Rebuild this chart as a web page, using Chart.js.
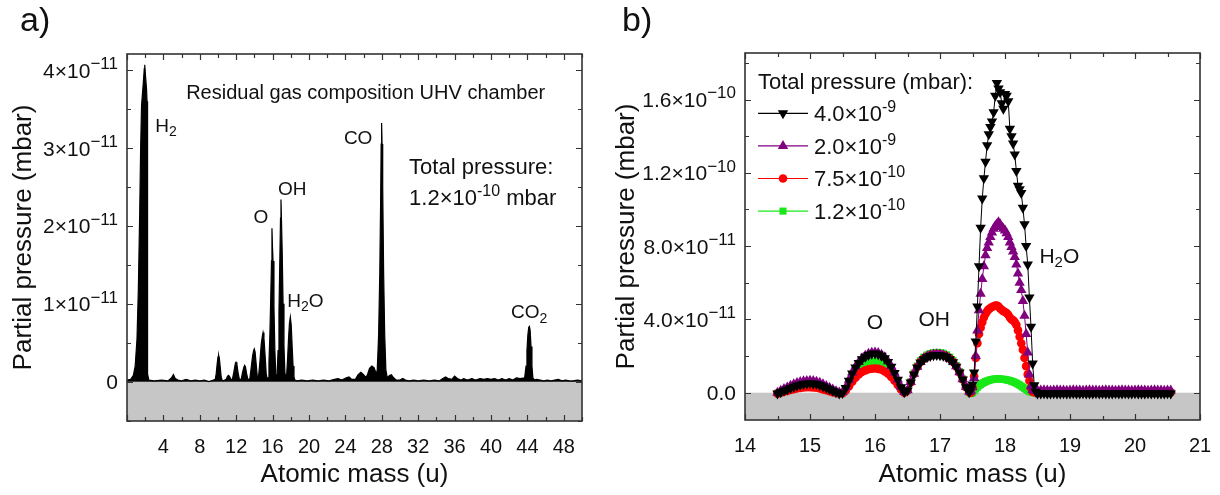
<!DOCTYPE html>
<html>
<head>
<meta charset="utf-8">
<script src="https://cdn.jsdelivr.net/npm/chart.js@4.4.0/dist/chart.umd.min.js"></script>
<style>
  body { margin: 0; background: #fff; width: 1220px; height: 495px; position: relative; overflow: hidden;
         font-family: "Liberation Sans", Arial, sans-serif; }
  .panel { position: absolute; top: 0; width: 610px; height: 495px; }
  .tag { position: absolute; top: 0px; font-size: 34px; color: #111; }
</style>
</head>
<body>
<div class="panel" style="left:0"><canvas id="chartA" width="610" height="495"></canvas></div>
<div class="panel" style="left:610px"><canvas id="chartB" width="610" height="495"></canvas></div>
<div class="tag" style="left:20px">a)</div>
<div class="tag" style="left:622px">b)</div>
<script>
// ---- panel a: residual gas spectrum, pressure in units of 1e-11 mbar ----
var massA = [
  0.0, 0.4, 0.7, 0.9, 1.1, 1.25, 1.4, 1.5, 1.6, 1.7, 1.8, 1.9, 1.95, 2.05, 2.15, 2.2, 2.24, 2.28, 2.4,
  3.0, 3.8, 4.5, 4.9, 5.1, 5.3, 5.6, 6.0, 6.5, 7.0, 7.5, 8.0, 8.5, 9.0, 9.5,
  9.7, 9.8, 9.9, 10.0, 10.07, 10.15, 10.25, 10.35, 10.45, 10.6,
  10.9, 11.05, 11.17, 11.3, 11.45,
  11.6, 11.75, 11.9, 11.98, 12.08, 12.2, 12.35,
  12.55, 12.7, 12.85, 12.93, 13.02, 13.15, 13.3,
  13.5, 13.65, 13.8, 13.92, 13.99, 14.08, 14.2, 14.33,
  14.45, 14.6, 14.75, 14.88, 14.95, 15.05, 15.18, 15.3, 15.4,
  15.5, 15.6, 15.7, 15.8, 15.88, 15.93, 15.98, 16.05, 16.15, 16.25, 16.35, 16.42,
  16.5, 16.6, 16.7, 16.8, 16.87, 16.92, 16.98, 17.05, 17.15, 17.25, 17.35, 17.45,
  17.55, 17.65, 17.75, 17.85, 17.95, 18.05, 18.15, 18.25, 18.35, 18.45,
  18.7, 19.2, 19.8, 20.4, 21.0, 21.6, 22.2, 22.8, 23.2, 23.6, 24.1, 24.4, 24.7,
  25.1, 25.4, 25.7, 26.0, 26.2,
  26.4, 26.65, 26.9, 27.15, 27.4,
  27.5, 27.65, 27.78, 27.87, 27.93, 27.98, 28.03, 28.1, 28.2, 28.32, 28.45,
  28.6, 28.85, 29.05, 29.3, 29.6, 30.0, 30.3, 30.6, 31.0, 31.5, 32.0, 32.6, 33.2, 33.8,
  34.3, 34.7, 35.0, 35.3, 35.7, 36.0, 36.3, 36.7, 37.0, 37.4, 37.9, 38.3, 38.8, 39.2,
  39.6, 40.0, 40.4, 40.8, 41.2, 41.6, 42.0, 42.4, 42.8, 43.2,
  43.7, 43.85, 43.95, 44.05, 44.15, 44.22, 44.3, 44.4, 44.5, 44.6, 44.8,
  45.0, 45.4, 45.8, 46.2, 46.6, 47.0, 47.4, 47.8, 48.2, 48.6, 49.0, 49.5, 50.0
];
var pressureA = [
  0.02, 0.03, 0.08, 0.20, 0.55, 1.20, 2.20, 3.00, 3.55, 3.70, 3.85, 4.02, 4.07, 3.90, 3.75, 3.60, 1.50, 0.10, 0.02,
  0.01, 0.02, 0.01, 0.05, 0.09, 0.04, 0.02, 0.01, 0.03, 0.01, 0.02, 0.01, 0.02, 0.00, 0.02,
  0.03, 0.10, 0.22, 0.32, 0.34, 0.30, 0.18, 0.06, 0.02, 0.01,
  0.03, 0.07, 0.08, 0.06, 0.02,
  0.04, 0.13, 0.23, 0.25, 0.22, 0.12, 0.03,
  0.03, 0.12, 0.19, 0.21, 0.19, 0.10, 0.02,
  0.04, 0.18, 0.33, 0.40, 0.42, 0.38, 0.22, 0.05,
  0.06, 0.25, 0.48, 0.59, 0.63, 0.56, 0.33, 0.10, 0.04,
  0.05, 0.25, 0.60, 1.10, 1.55, 1.97, 1.75, 1.55, 0.95, 0.40, 0.10, 0.06,
  0.10, 0.40, 0.90, 1.60, 2.10, 2.34, 2.05, 1.70, 1.00, 0.45, 0.12, 0.05,
  0.10, 0.30, 0.55, 0.75, 0.83, 0.72, 0.45, 0.20, 0.06, 0.02,
  0.01, 0.02, 0.01, 0.02, 0.01, 0.02, 0.01, 0.03, 0.04, 0.02, 0.05, 0.06, 0.03,
  0.03, 0.09, 0.12, 0.09, 0.06,
  0.08, 0.17, 0.20, 0.18, 0.10,
  0.15, 0.60, 1.40, 2.30, 3.05, 3.32, 3.05, 2.50, 1.40, 0.60, 0.15,
  0.05, 0.08, 0.09, 0.05, 0.02, 0.02, 0.04, 0.02, 0.01, 0.02, 0.01, 0.02, 0.01, 0.02,
  0.01, 0.04, 0.06, 0.04, 0.03, 0.07, 0.04, 0.02, 0.04, 0.02, 0.04, 0.02, 0.04, 0.03,
  0.04, 0.03, 0.04, 0.02, 0.04, 0.02, 0.04, 0.02, 0.05, 0.04,
  0.05, 0.20, 0.40, 0.60, 0.70, 0.71, 0.66, 0.45, 0.20, 0.05, 0.02,
  0.03, 0.02, 0.01, 0.02, 0.01, 0.02, 0.03, 0.01, 0.02, 0.01, 0.01, 0.02, 0.01
];

// ---- panel b: water region at four total pressures, units of 1e-11 mbar ----
var massB = [
  14.50, 14.55, 14.60, 14.65, 14.70, 14.75, 14.80, 14.85, 14.90, 14.95,
  15.00, 15.05, 15.10, 15.15, 15.20, 15.25, 15.30, 15.35, 15.40, 15.45,
  15.50, 15.55, 15.60, 15.65, 15.70, 15.75, 15.80, 15.85, 15.90, 15.95,
  16.00, 16.05, 16.10, 16.15, 16.20, 16.25, 16.30, 16.35, 16.40, 16.45,
  16.50, 16.55, 16.60, 16.65, 16.70, 16.75, 16.80, 16.85, 16.90, 16.95,
  17.00, 17.05, 17.10, 17.15, 17.20, 17.25, 17.30, 17.35, 17.40, 17.45,
  17.475, 17.500, 17.525, 17.550, 17.575, 17.600, 17.625, 17.650, 17.675, 17.700,
  17.725, 17.750, 17.775, 17.800, 17.825, 17.850, 17.875, 17.900, 17.925, 17.950,
  17.975, 18.000, 18.025, 18.050, 18.075, 18.100, 18.125, 18.150, 18.175, 18.200,
  18.225, 18.250, 18.275, 18.300, 18.325, 18.350, 18.375, 18.400, 18.425, 18.450,
  18.475, 18.500,
  18.55, 18.60, 18.65, 18.70, 18.75, 18.80, 18.85, 18.90, 18.95, 19.00,
  19.05, 19.10, 19.15, 19.20, 19.25, 19.30, 19.35, 19.40, 19.45, 19.50,
  19.55, 19.60, 19.65, 19.70, 19.75, 19.80, 19.85, 19.90, 19.95, 20.00,
  20.05, 20.10, 20.15, 20.20, 20.25, 20.30, 20.35, 20.40, 20.45, 20.50,
  20.55
];
var p4e9 = [
  -0.05, 0.02, 0.10, 0.18, 0.26, 0.33, 0.39, 0.44, 0.48, 0.50,
  0.51, 0.50, 0.47, 0.42, 0.35, 0.27, 0.19, 0.10, 0.03, -0.04,
  -0.02, 0.25, 0.65, 1.05, 1.38, 1.62, 1.82, 1.96, 2.06, 2.12,
  2.14, 2.10, 2.02, 1.88, 1.68, 1.42, 1.08, 0.70, 0.30, 0.02,
  0.12, 0.55, 1.00, 1.38, 1.65, 1.82, 1.93, 2.00, 2.04, 2.06,
  2.05, 2.02, 1.95, 1.83, 1.66, 1.42, 1.10, 0.72, 0.30, 0.02,
  0.20, 0.45, 1.10, 2.80, 4.70, 6.90, 9.00, 10.60, 11.70, 12.60,
  13.50, 14.10, 14.50, 14.80, 15.30, 16.20, 16.90, 16.60, 16.40, 15.80,
  15.50, 16.30, 16.20, 15.90, 14.40, 14.00, 13.60, 13.00, 12.10, 11.30,
  11.10, 10.90, 10.10, 9.20, 8.00, 7.00, 5.20, 3.60, 1.60, 0.40,
  0.05, -0.05,
  -0.04, -0.03, -0.05, -0.04, -0.03, -0.04, -0.05, -0.03, -0.04, -0.04,
  -0.03, -0.05, -0.04, -0.03, -0.04, -0.04, -0.05, -0.03, -0.04, -0.03,
  -0.04, -0.05, -0.04, -0.03, -0.04, -0.04, -0.03, -0.05, -0.04, -0.03,
  -0.04, -0.04, -0.05, -0.03, -0.04, -0.03, -0.04, -0.05, -0.04, -0.03,
  -0.04
];
var p2e9 = [
  0.00, 0.10, 0.20, 0.29, 0.38, 0.46, 0.53, 0.58, 0.62, 0.64,
  0.65, 0.64, 0.60, 0.54, 0.46, 0.37, 0.27, 0.17, 0.08, 0.01,
  0.02, 0.30, 0.70, 1.10, 1.43, 1.68, 1.88, 2.02, 2.12, 2.18,
  2.20, 2.16, 2.07, 1.93, 1.72, 1.45, 1.10, 0.72, 0.32, 0.04,
  0.14, 0.58, 1.03, 1.41, 1.68, 1.86, 1.97, 2.04, 2.08, 2.10,
  2.09, 2.05, 1.98, 1.86, 1.68, 1.44, 1.12, 0.74, 0.32, 0.05,
  0.10, 0.30, 0.80, 2.00, 3.40, 4.50, 5.40, 6.20, 6.90, 7.50,
  7.90, 8.20, 8.50, 8.75, 8.95, 9.10, 9.20, 9.30, 9.20, 9.05,
  8.95, 8.85, 8.70, 8.50, 8.20, 7.95, 7.70, 7.40, 7.00, 6.50,
  6.00, 5.60, 5.00, 4.20, 3.20, 2.20, 1.00, 0.35, 0.15, 0.12,
  0.12, 0.12,
  0.12, 0.13, 0.12, 0.11, 0.12, 0.13, 0.12, 0.12, 0.11, 0.12,
  0.13, 0.12, 0.12, 0.11, 0.12, 0.13, 0.12, 0.12, 0.11, 0.12,
  0.13, 0.12, 0.12, 0.11, 0.12, 0.13, 0.12, 0.12, 0.11, 0.12,
  0.13, 0.12, 0.12, 0.11, 0.12, 0.13, 0.12, 0.12, 0.11, 0.12,
  0.12
];
var p75e10 = [
  -0.05, 0.00, 0.05, 0.10, 0.15, 0.19, 0.23, 0.26, 0.28, 0.30,
  0.30, 0.29, 0.27, 0.23, 0.18, 0.13, 0.08, 0.03, -0.01, -0.04,
  -0.03, 0.12, 0.35, 0.60, 0.82, 1.00, 1.13, 1.22, 1.28, 1.31,
  1.32, 1.30, 1.25, 1.16, 1.03, 0.86, 0.65, 0.42, 0.18, 0.00,
  0.12, 0.56, 1.02, 1.40, 1.68, 1.86, 1.97, 2.05, 2.09, 2.11,
  2.10, 2.06, 1.98, 1.86, 1.68, 1.43, 1.10, 0.72, 0.30, 0.02,
  0.00, 0.30, 0.90, 1.90, 2.70, 3.20, 3.55, 3.85, 4.10, 4.30,
  4.45, 4.55, 4.62, 4.68, 4.72, 4.75, 4.76, 4.70, 4.60, 4.52,
  4.45, 4.40, 4.35, 4.25, 4.10, 4.00, 3.95, 3.85, 3.70, 3.40,
  3.05, 2.70, 2.35, 1.90, 1.45, 1.00, 0.65, 0.25, 0.05, 0.02,
  0.02, 0.02,
  0.02, 0.03, 0.02, 0.01, 0.02, 0.03, 0.02, 0.02, 0.01, 0.02,
  0.03, 0.02, 0.02, 0.01, 0.02, 0.03, 0.02, 0.02, 0.01, 0.02,
  0.03, 0.02, 0.02, 0.01, 0.02, 0.03, 0.02, 0.02, 0.01, 0.02,
  0.03, 0.02, 0.02, 0.01, 0.02, 0.03, 0.02, 0.02, 0.01, 0.02,
  0.02
];
var p12e10 = [
  -0.03, 0.05, 0.12, 0.19, 0.26, 0.32, 0.37, 0.41, 0.44, 0.45,
  0.46, 0.45, 0.42, 0.37, 0.31, 0.24, 0.16, 0.08, 0.02, -0.03,
  -0.01, 0.20, 0.52, 0.85, 1.12, 1.33, 1.48, 1.59, 1.66, 1.70,
  1.71, 1.68, 1.62, 1.50, 1.34, 1.12, 0.86, 0.56, 0.24, 0.02,
  0.15, 0.60, 1.07, 1.46, 1.75, 1.94, 2.06, 2.14, 2.18, 2.20,
  2.19, 2.15, 2.07, 1.94, 1.75, 1.49, 1.15, 0.75, 0.32, 0.03,
  -0.05, 0.00, 0.10, 0.20, 0.30, 0.38, 0.45, 0.51, 0.56, 0.60,
  0.64, 0.67, 0.70, 0.72, 0.74, 0.75, 0.76, 0.76, 0.75, 0.74,
  0.73, 0.72, 0.70, 0.68, 0.66, 0.63, 0.60, 0.56, 0.52, 0.47,
  0.42, 0.36, 0.30, 0.24, 0.18, 0.12, 0.07, 0.03, 0.01, 0.00,
  0.00, 0.00,
  0.00, 0.01, 0.00, 0.00, 0.01, 0.00, 0.00, 0.01, 0.00, 0.00,
  0.01, 0.00, 0.00, 0.01, 0.00, 0.00, 0.01, 0.00, 0.00, 0.01,
  0.00, 0.00, 0.01, 0.00, 0.00, 0.01, 0.00, 0.00, 0.01, 0.00,
  0.00, 0.01, 0.00, 0.00, 0.01, 0.00, 0.00, 0.01, 0.00, 0.00,
  0.00
];
var seriesLabelsB = ['4.0×10^{-9}', '2.0×10^{-9}', '7.5×10^{-10}', '1.2×10^{-10}'];

// tick labels ("^{...}" marks a superscript)
var yTickValuesA = [0, 1, 2, 3, 4];
var yTickLabelsA = ['0', '1×10^{−11}', '2×10^{−11}', '3×10^{−11}', '4×10^{−11}'];
var yTickValuesB = [0, 4, 8, 12, 16];
var yTickLabelsB = ['0.0', '4.0×10^{−11}', '8.0×10^{−11}', '1.2×10^{−10}', '1.6×10^{−10}'];

var FONT = '"Liberation Sans", Arial, sans-serif';
Chart.defaults.font.family = FONT;
Chart.defaults.color = '#111';

function parseRich(text) {
  var parts = [], re = /([_^])\{([^}]*)\}/g, last = 0, m;
  while ((m = re.exec(text))) {
    if (m.index > last) parts.push({ t: text.slice(last, m.index), k: '' });
    parts.push({ t: m[2], k: m[1] });
    last = re.lastIndex;
  }
  if (last < text.length) parts.push({ t: text.slice(last), k: '' });
  return parts;
}

function drawRich(ctx, text, x, yMid, size, align, ratio) {
  var parts = parseRich(text);
  var small = Math.round(size * (ratio || 0.72));
  var w = 0;
  parts.forEach(function (p) {
    ctx.font = (p.k ? small : size) + 'px ' + FONT;
    p.w = ctx.measureText(p.t).width;
    w += p.w;
  });
  var cx = align === 'right' ? x - w : align === 'center' ? x - w / 2 : x;
  var base = yMid + size * 0.36;
  ctx.textAlign = 'left';
  ctx.textBaseline = 'alphabetic';
  ctx.fillStyle = '#111';
  parts.forEach(function (p) {
    ctx.font = (p.k ? small : size) + 'px ' + FONT;
    var dy = p.k === '^' ? -size * 0.42 : p.k === '_' ? size * 0.22 : 0;
    ctx.fillText(p.t, cx, base + dy);
    cx += p.w;
  });
}

function drawMarker(ctx, style, x, y, r, color) {
  ctx.fillStyle = color;
  ctx.beginPath();
  if (style === 'circle') {
    ctx.arc(x, y, r, 0, Math.PI * 2);
  } else if (style === 'rect') {
    var s = r * Math.SQRT2 / 2;
    ctx.rect(x - s, y - s, 2 * s, 2 * s);
  } else {
    var d = style === 'down' ? -1 : 1;
    ctx.moveTo(x, y - d * r);
    ctx.lineTo(x + r * 0.866, y + d * r * 0.5);
    ctx.lineTo(x - r * 0.866, y + d * r * 0.5);
    ctx.closePath();
  }
  ctx.fill();
}

// frame, inward ticks, y labels, gray band below zero, text notes
function makeDecor(cfg) {
  return {
    id: 'decor',
    beforeDatasetsDraw: function (chart) {
      var ctx = chart.ctx, a = chart.chartArea, y = chart.scales.y;
      var y0 = y.getPixelForValue(0);
      ctx.save();
      ctx.fillStyle = '#c6c6c6';
      ctx.fillRect(a.left, y0, a.right - a.left, a.bottom - y0);
      ctx.restore();
    },
    afterDraw: function (chart) {
      var ctx = chart.ctx, a = chart.chartArea, x = chart.scales.x, y = chart.scales.y;
      ctx.save();
      ctx.strokeStyle = '#333';
      ctx.lineWidth = 1.2;
      ctx.beginPath();
      x.ticks.forEach(function (t) {
        var px = Math.round(x.getPixelForValue(t.value)) + 0.5;
        var len = cfg.xMajor(t.value) ? 6 : 4;
        ctx.moveTo(px, a.bottom); ctx.lineTo(px, a.bottom - len);
        ctx.moveTo(px, a.top); ctx.lineTo(px, a.top + len);
      });
      y.ticks.forEach(function (t) {
        var py = Math.round(y.getPixelForValue(t.value)) + 0.5;
        var len = cfg.yMajor(t.value) ? 6 : 4;
        ctx.moveTo(a.left, py); ctx.lineTo(a.left + len, py);
        ctx.moveTo(a.right, py); ctx.lineTo(a.right - len, py);
      });
      ctx.stroke();
      ctx.lineWidth = 1.6;
      ctx.strokeRect(a.left, a.top, a.right - a.left, a.bottom - a.top);

      cfg.yValues.forEach(function (v, i) {
        drawRich(ctx, cfg.yLabels[i], a.left - 9, y.getPixelForValue(v), 21, 'right', 0.8);
      });
      cfg.notes.forEach(function (n) {
        drawRich(ctx, n.text, x.getPixelForValue(n.x), y.getPixelForValue(n.y), n.size, n.align);
      });
      if (cfg.legend) cfg.legend(chart);
      ctx.restore();
    }
  };
}

function scaleOptions(o) {
  return {
    x: {
      type: 'linear', min: o.xmin, max: o.xmax,
      grid: { display: false }, border: { display: false },
      ticks: { stepSize: o.xstep, autoSkip: false, maxRotation: 0, padding: 6, color: '#111',
               font: { size: 20 }, callback: o.xLabel },
      title: { display: true, text: 'Atomic mass (u)', color: '#111', font: { size: 26 },
               padding: { top: 0, bottom: 5 } },
      afterFit: function (s) { s.height = o.xHeight; }
    },
    y: {
      type: 'linear', min: o.ymin, max: o.ymax,
      grid: { display: false }, border: { display: false },
      ticks: { stepSize: o.ystep, includeBounds: false, display: false },
      title: { display: true, text: 'Partial pressure (mbar)', color: '#111', font: { size: 26 },
               padding: { top: o.titlePad, bottom: 0 } },
      afterFit: function (s) { s.width = o.yWidth; }
    }
  };
}

// ---- chart a ----
var notesA = [
  { text: 'Residual gas composition UHV chamber', x: 6.5, y: 3.72, size: 20, align: 'left' },
  { text: 'H_{2}', x: 3.1, y: 3.29, size: 19, align: 'left' },
  { text: 'CO', x: 25.4, y: 3.14, size: 19, align: 'center' },
  { text: 'Total pressure:', x: 31.0, y: 2.77, size: 22, align: 'left' },
  { text: '1.2×10^{-10} mbar', x: 31.0, y: 2.37, size: 22, align: 'left' },
  { text: 'OH', x: 18.15, y: 2.49, size: 19, align: 'center' },
  { text: 'O', x: 14.7, y: 2.13, size: 19, align: 'center' },
  { text: 'H_{2}O', x: 17.6, y: 1.05, size: 19, align: 'left' },
  { text: 'CO_{2}', x: 42.2, y: 0.9, size: 19, align: 'left' }
];

new Chart(document.getElementById('chartA').getContext('2d'), {
  type: 'line',
  data: {
    datasets: [{
      data: massA.map(function (m, i) { return { x: m, y: pressureA[i] }; }),
      borderColor: '#000', borderWidth: 1.2, backgroundColor: '#000',
      fill: 'origin', pointRadius: 0, tension: 0
    }]
  },
  options: {
    responsive: false, animation: false, events: [],
    layout: { padding: { left: 0, right: 28, top: 54, bottom: 0 } },
    plugins: { legend: { display: false }, tooltip: { enabled: false } },
    scales: scaleOptions({
      xmin: 0, xmax: 50, xstep: 2, xHeight: 74,
      xLabel: function (v) { return (v % 4 === 0 && v > 0 && v < 50) ? String(v) : ''; },
      ymin: -0.505, ymax: 4.207, ystep: 0.5, yWidth: 127, titlePad: 8
    })
  },
  plugins: [makeDecor({
    xMajor: function (v) { return v % 4 === 0; },
    yMajor: function (v) { return Number.isInteger(v); },
    yValues: yTickValuesA, yLabels: yTickLabelsA, notes: notesA
  })]
});

// ---- chart b ----
var stylesB = [
  { color: '#000000', marker: 'down', shape: 'triangle', rot: 180, r: 6 },
  { color: '#800080', marker: 'up', shape: 'triangle', rot: 0, r: 6 },
  { color: '#ff0000', marker: 'circle', shape: 'circle', rot: 0, r: 4.3 },
  { color: '#18e818', marker: 'rect', shape: 'rect', rot: 0, r: 5 }
];
var valuesB = [p4e9, p2e9, p75e10, p12e10];

var notesB = [
  { text: 'O', x: 16.0, y: 3.87, size: 21, align: 'center' },
  { text: 'OH', x: 16.91, y: 4.06, size: 21, align: 'center' },
  { text: 'H_{2}O', x: 18.53, y: 7.5, size: 21, align: 'left' }
];

function legendB(chart) {
  var ctx = chart.ctx, a = chart.chartArea;
  var left = a.left + 13;
  drawRich(ctx, 'Total pressure (mbar):', left, a.top + 28.5, 22, 'left');
  seriesLabelsB.forEach(function (label, i) {
    var st = stylesB[i];
    var yy = a.top + 60.3 + i * 32.6;
    ctx.strokeStyle = st.color;
    ctx.lineWidth = 1.2;
    ctx.beginPath();
    ctx.moveTo(left, yy); ctx.lineTo(left + 50, yy);
    ctx.stroke();
    drawMarker(ctx, st.marker, left + 25, yy, st.r, st.color);
    drawRich(ctx, label, left + 56, yy, 22, 'left');
  });
}

new Chart(document.getElementById('chartB').getContext('2d'), {
  type: 'line',
  data: {
    datasets: valuesB.map(function (vals, k) {
      var st = stylesB[k];
      return {
        label: seriesLabelsB[k],
        data: massB.map(function (m, i) { return { x: m, y: vals[i] }; }),
        borderColor: st.color, borderWidth: 1, fill: false, tension: 0,
        pointStyle: st.shape, pointRotation: st.rot, pointRadius: st.r,
        pointBackgroundColor: st.color, pointBorderColor: st.color, pointBorderWidth: 0
      };
    })
  },
  options: {
    responsive: false, animation: false, events: [],
    layout: { padding: { left: 0, right: 20, top: 53, bottom: 0 } },
    plugins: { legend: { display: false }, tooltip: { enabled: false } },
    scales: scaleOptions({
      xmin: 14, xmax: 21, xstep: 0.5, xHeight: 75,
      xLabel: function (v) { return Number.isInteger(v) ? String(v) : ''; },
      ymin: -1.49, ymax: 18.54, ystep: 2, yWidth: 135, titlePad: 1
    })
  },
  plugins: [makeDecor({
    xMajor: function (v) { return Number.isInteger(v); },
    yMajor: function (v) { return v % 4 === 0; },
    yValues: yTickValuesB, yLabels: yTickLabelsB, notes: notesB, legend: legendB
  })]
});
</script>
</body>
</html>
